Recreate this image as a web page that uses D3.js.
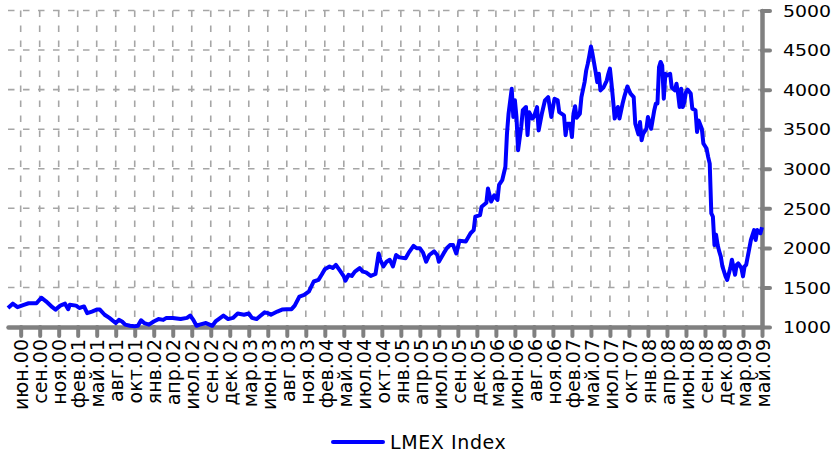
<html>
<head>
<meta charset="utf-8">
<script src="https://d3js.org/d3.v7.min.js"></script>
<style>
  body { margin: 0; background: #fff; }
  text { font-family: "DejaVu Sans", sans-serif; fill: #000; }
</style>
</head>
<body>
<div id="chart"></div>
<script>
// LMEX index, weekly, Apr 2000 - May 2009 (week numbers from 14 Apr 2000)
var weekNo = [0,3,6,10,13,18,21,24,28,30,33,36,38,39,43,45,48,50,53,56,58,61,64,68,70,72,74,77,80,82,
  84,86,89,92,95,98,100,104,109,113,115,117,119,121,125,129,131,133,136,139,142,145,149,152,154,157,159,162,164,166,
  170,173,176,179,181,184,187,190,193,196,198,200,203,205,207,210,212,213,215,217,219,222,224,226,229,232,234,235,237,239,
  241,243,245,247,251,253,256,258,260,262,264,266,269,271,272,275,277,279,281,283,285,289,292,294,295,298,299,302,303,305,
  307,309,310,312,314,315,316,318,319,320,321,322,324,325,327,328,329,331,332,334,335,337,339,341,343,345,347,348,351,352,
  353,355,356,357,358,359,361,362,364,365,366,367,368,369,371,372,373,374,376,378,379,380,381,382,383,385,386,388,389,391,
  393,395,396,398,399,400,401,403,404,406,408,409,410,411,412,413,414,415,416,418,419,421,422,423,424,425,426,427,428,429,
  431,432,434,435,436,438,439,441,442,443,444,445,446,447,448,449,450,451,453,454,456,457,459,460,461,463,464,465,466,468,
  469,471,472,473,475,476];
var lmex = [1240,1295,1250,1280,1300,1300,1370,1325,1250,1220,1270,1295,1225,1280,1270,1240,1260,1175,1195,1220,1220,1155,1115,1050,1090,1070,1030,1015,1010,1015,
  1085,1050,1030,1070,1100,1090,1115,1115,1100,1115,1145,1090,1015,1030,1050,1015,1070,1100,1145,1100,1115,1170,1155,1170,1115,1100,1135,1185,1175,1155,
  1195,1220,1225,1225,1270,1385,1405,1450,1575,1595,1660,1730,1765,1745,1785,1700,1640,1585,1660,1645,1700,1745,1700,1690,1645,1670,1930,1850,1765,1825,
  1850,1765,1910,1880,1870,1940,2025,1995,1995,1940,1825,1910,1955,1910,1825,1930,1995,2035,2035,1930,2090,2080,2185,2225,2395,2415,2520,2570,2750,2585,
  2665,2605,2795,2855,3025,3445,3695,4010,3655,3865,3655,3235,3530,3740,3780,3425,3715,3635,3655,3780,3485,3695,3865,3905,3655,3885,3865,3715,3675,3425,
  3570,3570,3400,3695,3790,3645,3695,3905,4095,4240,4325,4430,4545,4450,4220,4095,4200,3990,4030,4115,4200,4265,4075,3865,3635,3780,3635,3825,3905,4040,
  3950,3905,3570,3435,3590,3360,3445,3505,3655,3505,3740,3825,3825,4285,4350,4305,3885,4200,4180,4200,4030,3990,4075,3950,3780,4010,3780,3845,3970,4000,
  3950,3760,3740,3465,3610,3505,3320,3255,3150,3065,2435,2395,2035,2165,2035,1955,1890,1765,1640,1595,1745,1850,1660,1785,1805,1745,1640,1765,1785,1995,
  2100,2225,2100,2225,2185,2260];

var tickLabels = ["июн.00","сен.00","ноя.00","фев.01","май.01","авг.01","окт.01","янв.02","апр.02","июл.02",
  "сен.02","дек.02","мар.03","июн.03","авг.03","ноя.03","фев.04","май.04","июл.04","окт.04",
  "янв.05","апр.05","июл.05","сен.05","дек.05","мар.06","июн.06","авг.06","ноя.06","фев.07",
  "май.07","июл.07","окт.07","янв.08","апр.08","июн.08","сен.08","дек.08","мар.09","май.09"];
var yTicks = [1000,1500,2000,2500,3000,3500,4000,4500,5000];
var seriesName = "LMEX Index";

var W = 832, H = 459;
var plotL = 8, plotR = 762, plotT = 10.5, plotB = 327;

var start = new Date(Date.UTC(2000, 3, 14));
function weekDate(w) { return d3.utcDay.offset(start, 7 * w); }

var x = d3.scaleUtc().domain([start, weekDate(476)]).range([plotL, plotR]);
var y = d3.scaleLinear().domain([1000, 5000]).range([plotB, plotT]);

// a labelled tick every 12 weeks, first one 8 weeks in
var tickDates = tickLabels.map(function(d, i) { return weekDate(8 + 12 * i); });

var svg = d3.select("#chart").append("svg")
  .attr("width", W).attr("height", H);

// grid
var grid = svg.append("g")
  .attr("stroke", "#a6a6a6").attr("stroke-width", 1.6)
  .attr("stroke-dasharray", "6.5,8.5");
grid.selectAll("line.h").data(yTicks.slice(1)).enter().append("line")
  .attr("x1", plotL).attr("x2", plotR)
  .attr("y1", function(d) { return y(d); }).attr("y2", function(d) { return y(d); });
grid.selectAll("line.v").data(tickDates.slice(0, -1)).enter().append("line")
  .attr("x1", function(d) { return x(d); }).attr("x2", function(d) { return x(d); })
  .attr("y1", plotT).attr("y2", plotB);

// x axis
var xAxis = svg.append("g")
  .attr("transform", "translate(0," + plotB + ")")
  .call(d3.axisBottom(x).tickValues(tickDates)
    .tickFormat(function(d, i) { return tickLabels[i]; })
    .tickSize(9).tickSizeOuter(0));
xAxis.select(".domain").attr("stroke", "#808080").attr("stroke-width", 4.5).attr("stroke-linecap", "round");
xAxis.selectAll(".tick line").attr("stroke", "#808080").attr("stroke-width", 4).attr("stroke-linecap", "round");
xAxis.selectAll(".tick text")
  .attr("transform", "rotate(-90)")
  .attr("x", -12).attr("y", 0).attr("dy", "0.38em")
  .attr("text-anchor", "end")
  .style("font-family", "DejaVu Sans").style("font-size", "19px").attr("fill", "#000");

// y axis on the right
var yAxis = svg.append("g")
  .attr("transform", "translate(" + plotR + ",0)")
  .call(d3.axisRight(y).tickValues(yTicks).tickFormat(d3.format("d"))
    .tickSize(8).tickSizeOuter(0).tickPadding(13));
yAxis.select(".domain").attr("stroke", "#808080").attr("stroke-width", 4.5).attr("stroke-linecap", "round");
yAxis.selectAll(".tick line").attr("stroke", "#808080").attr("stroke-width", 4).attr("stroke-linecap", "round");
yAxis.selectAll(".tick text")
  .attr("x", 0).attr("dy", "0.36em")
  .attr("transform", "translate(21,0) scale(1.18,1)")
  .style("font-family", "DejaVu Sans").style("font-size", "16px").attr("fill", "#000");

// series line
var line = d3.line()
  .x(function(d, i) { return x(weekDate(weekNo[i])); })
  .y(function(d) { return y(d); });
svg.append("path")
  .datum(lmex)
  .attr("fill", "none")
  .attr("stroke", "#0000ff")
  .attr("stroke-width", 4)
  .attr("stroke-linejoin", "round")
  .attr("d", line);

// legend
var lg = svg.append("g").attr("transform", "translate(333,442)");
lg.append("line").attr("x1", 0).attr("x2", 50).attr("y1", 0).attr("y2", 0)
  .attr("stroke", "#0000ff").attr("stroke-width", 4).attr("stroke-linecap", "round");
lg.append("text").attr("x", 57).attr("dy", "0.36em")
  .style("font-size", "19px").style("letter-spacing", "0.6px")
  .text(seriesName);
</script>
</body>
</html>
